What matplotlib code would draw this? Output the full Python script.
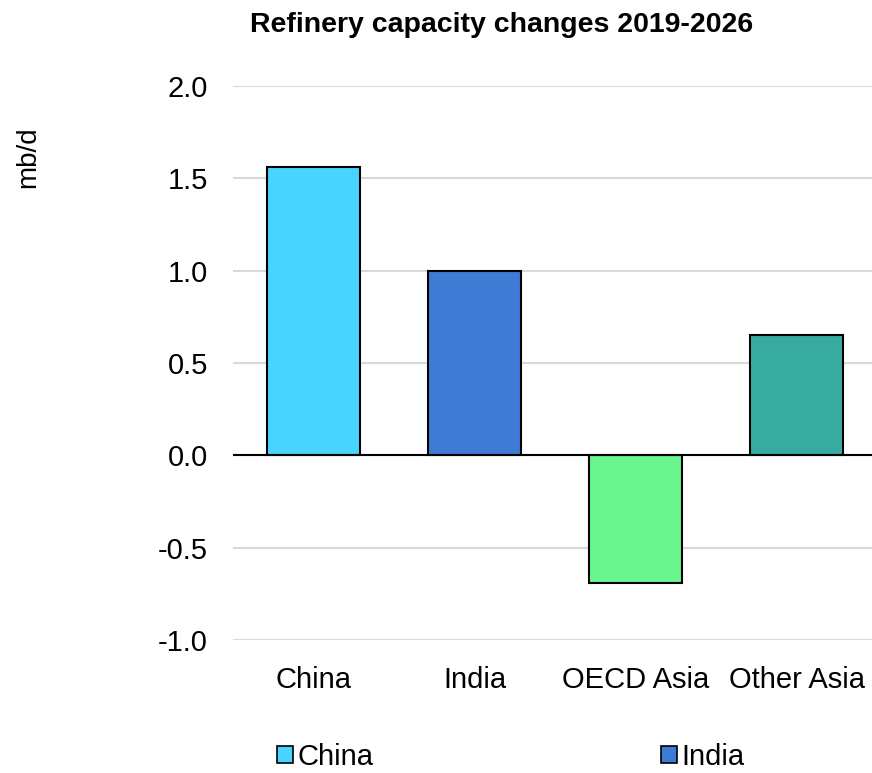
import matplotlib
matplotlib.use("Agg")
import matplotlib.pyplot as plt
from matplotlib.patches import Patch

categories = ["China", "India", "OECD Asia", "Other Asia"]
values = [1.56, 1.0, -0.69, 0.65]
colors = ["#48D4FF", "#3D7BD4", "#69F58F", "#38ABA0"]
yticks = [-1.0, -0.5, 0.0, 0.5, 1.0, 1.5, 2.0]
legend_items = ["China", "India"]

plt.rcParams['font.family'] = ['Liberation Sans', 'DejaVu Sans']

W, H = 872, 773
fig = plt.figure(figsize=(W/100, H/100), dpi=100)
ax = fig.add_axes([233/W, (H-640)/H, 644/W, (640-86)/H])

x = list(range(len(categories)))
ax.bar(x, values, width=0.58, color=colors, edgecolor="black", linewidth=1.5, zorder=3)
ax.set_xlim(-0.5, 3.5)
ax.set_ylim(-1.0, 2.0)
ax.set_yticks(yticks)
ax.set_yticklabels([f"{v:.1f}" for v in yticks], fontsize=21)
ax.set_xticks(x)
ax.set_xticklabels(categories, fontsize=21)
ax.tick_params(axis='y', length=0, pad=18)
ax.tick_params(axis='x', length=0, pad=19)
for s in ax.spines.values():
    s.set_visible(False)
ax.grid(axis='y', color="#d9d9d9", linewidth=1.5, zorder=0)
ax.axhline(0, color="black", linewidth=1.5, zorder=4)

fig.text(502/W, 1 - 25/H, "Refinery capacity changes 2019-2026", ha='center', va='center',
         fontsize=20.5, fontweight='bold')
fig.text(28/W, 1 - 157/H, "mb/d", rotation=90, ha='center', va='center', fontsize=20)

handles = [Patch(facecolor=colors[categories.index(n)], edgecolor="black", linewidth=1.2)
           for n in legend_items]
fig.legend(handles, legend_items, loc='center', bbox_to_anchor=(511/W, 1 - 757/H),
           ncol=2, frameon=False, fontsize=21, handlelength=0.55, handleheight=0.55,
           handletextpad=0.15, columnspacing=9.85)

fig.savefig("out.png", dpi=100)
